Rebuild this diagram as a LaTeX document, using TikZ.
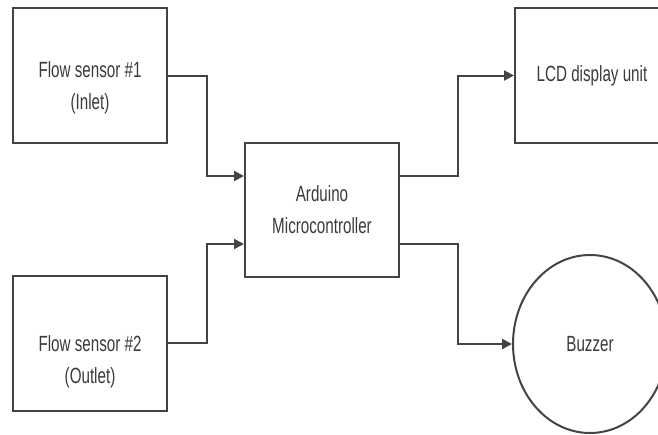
\documentclass[tikz,border=0pt]{standalone}
\usepackage{fontspec}
\setmainfont{Liberation Sans}[FakeStretch=0.69]
\usetikzlibrary{arrows.meta,positioning,calc,shapes.geometric}
\definecolor{lnG}{HTML}{444444}
\definecolor{txG}{HTML}{3A3A3A}

\begin{document}
\begin{tikzpicture}[x=1pt,y=-1pt,
  every node/.style={font=\fontsize{22}{32}\selectfont,text=txG,align=center},
  block/.style={draw=lnG,line width=2pt,minimum width=154pt,minimum height=135pt,inner sep=0pt},
  link/.style={draw=lnG,line width=2pt,-{Triangle[length=10pt,width=10pt]}}]
  \useasboundingbox (0,0) rectangle (658,434);
  \clip (0,0) rectangle (658,434);
  % sensors on the left
  \node[block,label={[yshift=-12pt]center:{Flow sensor \#1\\(Inlet)}}] (fsa) at (90,75.5) {};
  \node[block,label={[yshift=-19pt]center:{Flow sensor \#2\\(Outlet)}}] (fsb) at (90,343) {};
  % controller
  \node[block,minimum height=134pt] (ard) at (322,210) {Arduino\\Microcontroller};
  % outputs, cut by the right edge
  \node[block] (lcd) at (592,75.5) {LCD display unit};
  \node[draw=lnG,line width=2pt,ellipse,minimum width=154pt,minimum height=178pt,inner sep=0pt] (buz) at (590,344) {Buzzer};
  \coordinate (ina) at ($(ard.north west)!0.25!(ard.south west)$);
  \coordinate (inb) at ($(ard.north west)!0.75!(ard.south west)$);
  \coordinate (outa) at ($(ard.north east)!0.25!(ard.south east)$);
  \coordinate (outb) at ($(ard.north east)!0.75!(ard.south east)$);
  \draw[link] (fsa.east) -- ++(39,0) |- (ina);
  \draw[link] (fsb.east) -- ++(39,0) |- (inb);
  \draw[link] (outa) -- ++(58,0) |- (lcd.west);
  \draw[link] (outb) -- ++(58,0) |- (buz.west);
\end{tikzpicture}
\end{document}
